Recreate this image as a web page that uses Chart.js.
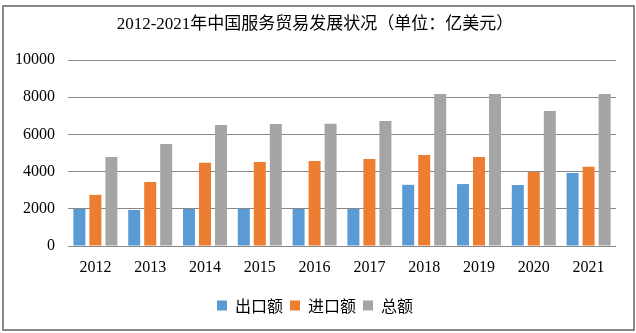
<!DOCTYPE html>
<html>
<head>
<meta charset="utf-8">
<script src="https://cdn.jsdelivr.net/npm/chart.js@4/dist/chart.umd.min.js"></script>
<style>
  html, body { margin: 0; padding: 0; background: #fff; }
  #wrap { position: relative; width: 636px; height: 333px; }
  #c { position: absolute; left: 0; top: 0; }
  #frame { position: absolute; left: 2px; top: 5px; width: 633px; height: 326px; box-sizing: border-box; border: 2px solid #888; pointer-events: none; }
</style>
</head>
<body>
<div id="wrap">
  <canvas id="c" width="636" height="333"></canvas>
  <div id="frame"></div>
</div>
<script>
const titleText = "2012-2021年中国服务贸易发展状况（单位：亿美元）";
const years = ["2012","2013","2014","2015","2016","2017","2018","2019","2020","2021"];
const seriesNames = ["出口额","进口额","总额"];
const exportValues = [1990, 1940, 1990, 1990, 1990, 1990, 3290, 3330, 3280, 3920];
const importValues = [2750, 3440, 4470, 4520, 4570, 4680, 4890, 4790, 3980, 4260];
const totalValues  = [4790, 5480, 6510, 6560, 6570, 6720, 8170, 8170, 7260, 8170];
const yTicks = [0, 2000, 4000, 6000, 8000, 10000];

const colors = ["#5B9BD5", "#ED7D31", "#A5A5A5"];
const serif = "'Times New Roman','Liberation Serif','Noto Sans CJK SC',serif";

new Chart(document.getElementById('c'), {
  type: 'bar',
  data: {
    labels: years,
    datasets: [exportValues, importValues, totalValues].map((d, i) => ({
      label: seriesNames[i],
      data: d,
      backgroundColor: colors[i],
      borderWidth: 0,
      categoryPercentage: 0.876,
      barPercentage: 0.75
    }))
  },
  options: {
    responsive: false,
    animation: false,
    devicePixelRatio: 1,
    layout: { padding: { left: 14, right: 20, top: 0, bottom: 9.5 } },
    plugins: {
      title: {
        display: true,
        text: titleText,
        color: '#000',
        font: { family: serif, size: 17, weight: 'normal', lineHeight: 1.2 },
        padding: { top: 14.5, bottom: 25.1 }
      },
      legend: {
        position: 'bottom',
        labels: {
          boxWidth: 10,
          boxHeight: 10,
          padding: 7,
          color: '#000',
          font: { family: "'Noto Sans CJK SC',sans-serif", size: 16 }
        }
      },
      tooltip: { enabled: false }
    },
    scales: {
      x: {
        grid: { display: false, drawTicks: false },
        border: { display: false },
        ticks: { color: '#000', padding: 12.6, font: { family: serif, size: 16 } },
        afterFit: (s) => { s.height = 44.5; }
      },
      y: {
        min: 0,
        max: 10000,
        afterBuildTicks: (s) => { s.ticks = yTicks.map(v => ({ value: v })); },
        grid: { color: '#888', lineWidth: 1, drawTicks: false },
        border: { display: false },
        ticks: { color: '#000', padding: 13, font: { family: serif, size: 16 }, callback: (v) => String(v) },
        afterFit: (s) => { s.width = 54; }
      }
    }
  }
});
</script>
</body>
</html>
